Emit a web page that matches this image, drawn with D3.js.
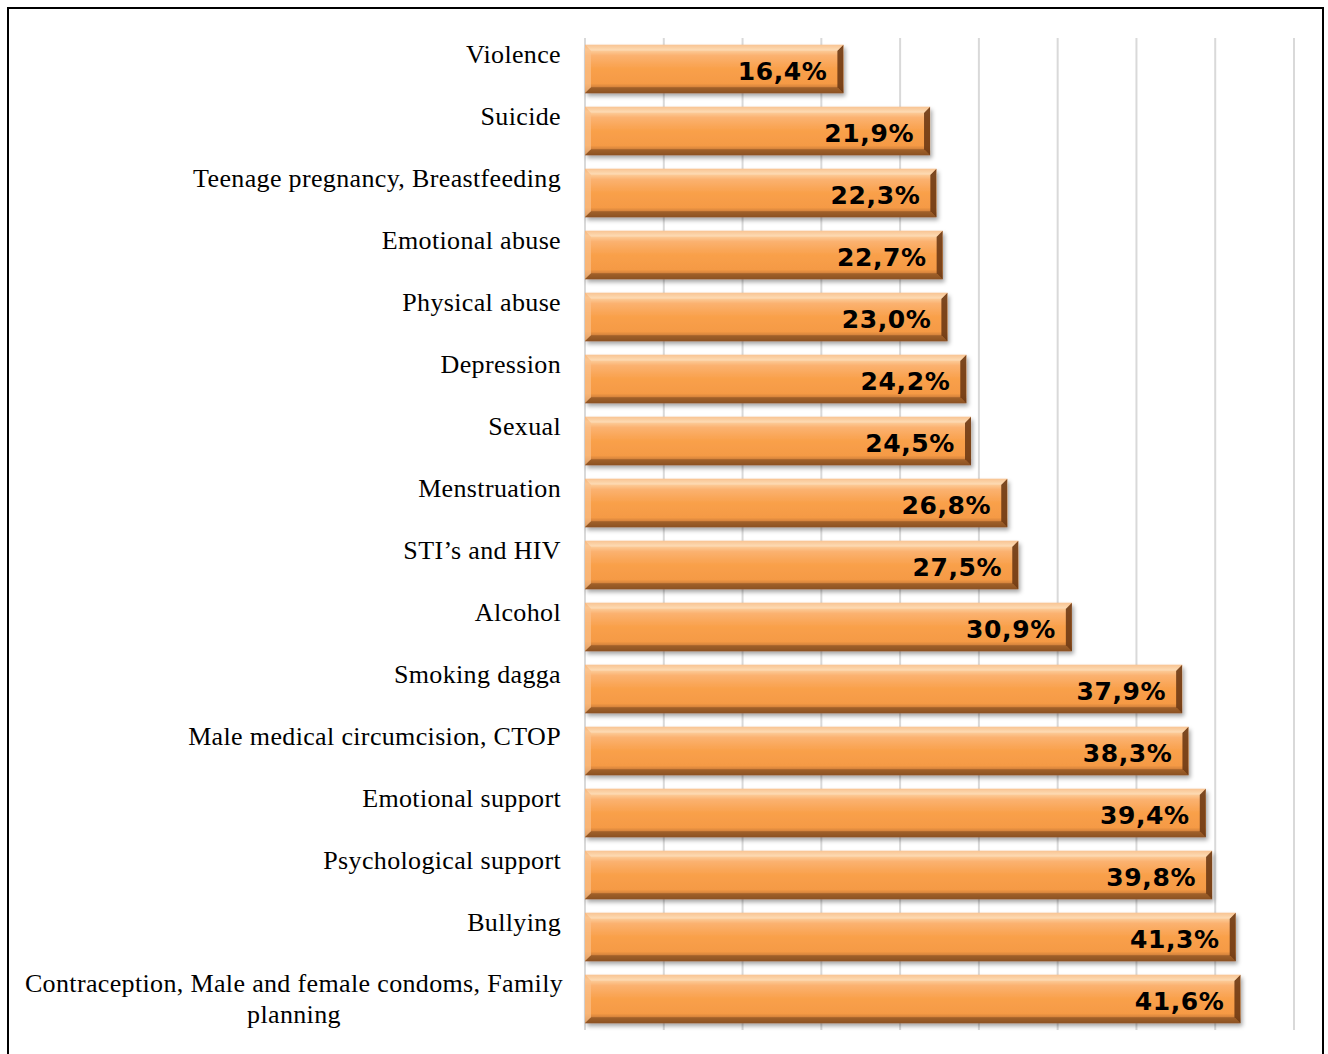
<!DOCTYPE html>
<html><head><meta charset="utf-8">
<script src="https://cdn.jsdelivr.net/npm/d3@7"></script>
<style>body{margin:0;background:#fff}svg{display:block}</style>
</head><body>
<svg id="chart" width="1328" height="1054"></svg>
<script>
const categories = ["Violence","Suicide","Teenage pregnancy, Breastfeeding","Emotional abuse","Physical abuse","Depression","Sexual","Menstruation","STI\u2019s and HIV","Alcohol","Smoking dagga","Male medical circumcision, CTOP","Emotional support","Psychological support","Bullying","Contraception, Male and female condoms, Family planning"];
const values = [16.4,21.9,22.3,22.7,23.0,24.2,24.5,26.8,27.5,30.9,37.9,38.3,39.4,39.8,41.3,41.6];
const xTicks = [0,5,10,15,20,25,30,35,40,45];
const valueLabels = values.map(v => v.toFixed(1).replace(".", ",") + "%");

(function(){
const svg = d3.select("#chart");
const pLeft = 585, pRight = 1294, pTop = 38, pBottom = 1030;

const defs = svg.append("defs");
const g1 = defs.append("linearGradient").attr("id","barGrad").attr("x1",0).attr("y1",0).attr("x2",0).attr("y2",1);
[[0,"#f2a25c"],[0.1,"#fcd0a0"],[0.22,"#fbb271"],[0.5,"#f9a04a"],[0.8,"#f59a45"],[0.9,"#c97a38"],[1,"#8a5024"]].forEach(s=>g1.append("stop").attr("offset",s[0]).attr("stop-color",s[1]));
const fl = defs.append("filter").attr("id","shadow").attr("x","-5%").attr("y","-20%").attr("width","115%").attr("height","160%");
fl.append("feDropShadow").attr("dx",2).attr("dy",3).attr("stdDeviation",2).attr("flood-color","#000").attr("flood-opacity",0.35);

svg.append("rect").attr("x",8).attr("y",8).attr("width",1315).attr("height",1060).attr("fill","#fff").attr("stroke","#000").attr("stroke-width",2);

const x = d3.scaleLinear().domain([0,45]).range([pLeft,pRight]);
const y = d3.scaleBand().domain(categories).range([pTop,pBottom]).paddingInner(0.22).paddingOuter(0.11);

svg.append("g").selectAll("line").data(xTicks).join("line")
  .attr("x1",d=>x(d)).attr("x2",d=>x(d)).attr("y1",pTop).attr("y2",pBottom)
  .attr("stroke","#d9d9d9").attr("stroke-width",2);

const bars = svg.append("g").selectAll("g").data(categories).join("g");
bars.each(function(c,i){
  const gg = d3.select(this);
  const x0 = x(0), x1 = x(values[i]), y0 = y(c), h = y.bandwidth(), b = 6;
  gg.append("rect").attr("x",x0).attr("y",y0).attr("width",x1-x0).attr("height",h)
    .attr("fill","url(#barGrad)").attr("filter","url(#shadow)");
  gg.append("path").attr("d",`M${x0},${y0}L${x0+b},${y0+b}L${x0+b},${y0+h-b}L${x0},${y0+h}Z`).attr("fill","#fbc08a").attr("opacity",0.7);
  gg.append("path").attr("d",`M${x1},${y0}L${x1-b},${y0+b}L${x1-b},${y0+h-b}L${x1},${y0+h}Z`).attr("fill","#6e3a14").attr("opacity",0.9);
  gg.append("path").attr("d",`M${x0},${y0}L${x1},${y0}L${x1-b},${y0+b}L${x0+b},${y0+b}Z`).attr("fill","#fde0c0").attr("opacity",0.55);
  gg.append("path").attr("d",`M${x0},${y0+h}L${x1},${y0+h}L${x1-b},${y0+h-b}L${x0+b},${y0+h-b}Z`).attr("fill","#8c5222").attr("opacity",0.7);
  gg.append("text").attr("x",x1-16).attr("y",y0+h/2+4).attr("text-anchor","end").attr("dominant-baseline","middle")
    .attr("font-family","DejaVu Sans").attr("font-weight","bold").attr("font-size",25).attr("letter-spacing",0.6).attr("fill","#000")
    .text(valueLabels[i]);
});

const lab = svg.append("g").attr("font-family","Liberation Serif").attr("font-size",26).attr("letter-spacing",0.35).attr("fill","#000");
categories.forEach((c,i)=>{
  const cy = y(c)+y.bandwidth()/2;
  if (c.length > 40) {
    const t = lab.append("text").attr("text-anchor","middle");
    t.append("tspan").attr("x",294).attr("y",cy-7).text("Contraception, Male and female condoms, Family");
    t.append("tspan").attr("x",294).attr("y",cy+24).text("planning");
  } else {
    lab.append("text").attr("x",561).attr("y",cy-6).attr("text-anchor","end").text(c);
  }
});
})();
</script>
</body></html>
